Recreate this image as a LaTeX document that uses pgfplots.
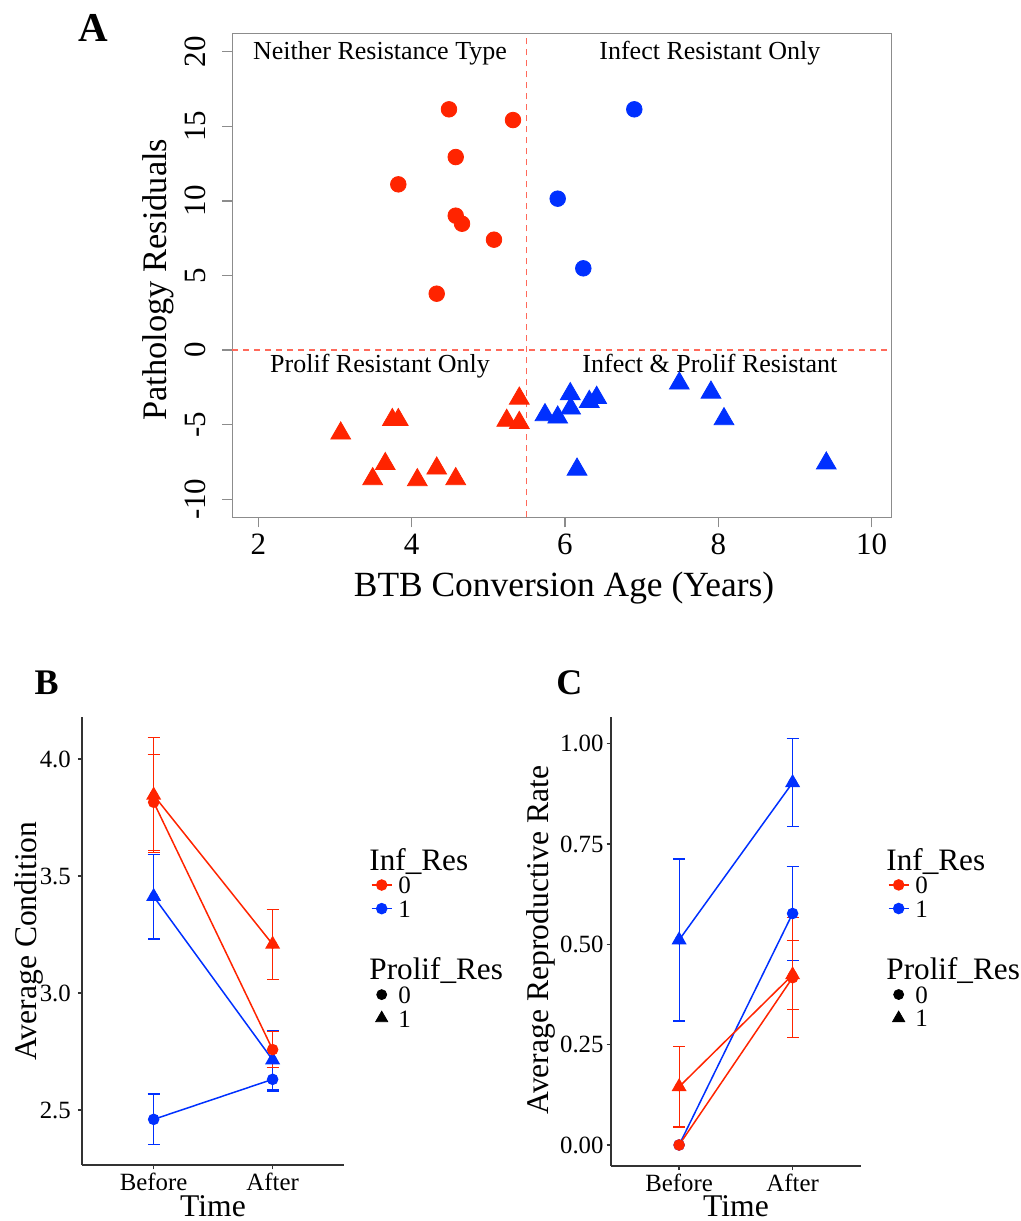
\documentclass[border=0pt]{standalone}
\usepackage{fontspec}
\setmainfont{Liberation Serif}
\usepackage{pgfplots}
\usepackage{pgfplotstable}
\pgfplotsset{compat=1.18}
\definecolor{myred}{RGB}{255,36,0}
\definecolor{myblue}{RGB}{0,48,255}
\definecolor{dashred}{RGB}{255,105,90}
\definecolor{axgray}{RGB}{140,140,140}

% Panel A data
\pgfplotstableread{
x y
4.487 16.14
5.322 15.42
4.575 12.94
3.826 11.11
4.575 9.01
4.657 8.47
5.074 7.40
4.327 3.78
}\AredC
\pgfplotstableread{
x y
6.904 16.14
5.905 10.15
6.239 5.48
}\AblueC
\pgfplotstableread{
x y
3.075 -5.58
3.748 -4.68
3.826 -4.68
3.656 -7.63
3.492 -8.64
4.327 -7.93
4.074 -8.71
4.575 -8.64
5.240 -4.73
5.404 -4.87
5.404 -3.24
}\AredT
\pgfplotstableread{
x y
5.739 -4.35
5.905 -4.51
6.069 -2.94
6.074 -3.91
6.317 -3.46
6.413 -3.19
6.157 -8.00
7.491 -2.23
7.904 -2.84
8.074 -4.62
9.408 -7.59
}\AblueT

% Panel B data
\pgfplotstableread{
t y e
1 2.460 0.108
2 2.631 0.050
}\BblueC
\pgfplotstableread{
t y e
1 3.412 0.181
2 2.714 0.125
}\BblueT
\pgfplotstableread{
t y e
1 3.815 0.205
2 2.758 0.077
}\BredC
\pgfplotstableread{
t y e
1 3.845 0.245
2 3.208 0.150
}\BredT

% Panel C data
\pgfplotstableread{
t y e
1 0.000 0.000
2 0.577 0.118
}\CblueC
\pgfplotstableread{
t y e
2 0.577 0.118
}\CblueCe
\pgfplotstableread{
t y e
1 0.511 0.202
2 0.903 0.110
}\CblueT
\pgfplotstableread{
t y e
1 0.000 0.000
2 0.417 0.150
}\CredC
\pgfplotstableread{
t y e
2 0.417 0.150
}\CredCe
\pgfplotstableread{
t y e
1 0.145 0.100
2 0.424 0.086
}\CredT

\newcommand{\es}{\rule[-1.85pt]{0pt}{12.15pt}}
\newcommand{\titlebox}[1]{\makebox[0pt][l]{\hspace*{-15pt}\fontsize{15.6}{17}\selectfont\rule[-2.4pt]{0pt}{14.4pt}#1}}

\pgfplotsset{
  smallstyle/.style={
    scale only axis,
    axis x line*=bottom, axis y line*=left,
    axis line style={black!80, line width=1pt},
    tick style={black!80, line width=0.7pt},
    major tick length=2.2pt,
    tick align=outside,
    xtick={1,2}, xticklabels={Before,After},
    xmin=0.4, xmax=2.6,
    ticklabel style={font=\fontsize{12.4}{14}\selectfont},
    xticklabel style={yshift=1.5pt},
    /pgf/number format/assume math mode=true,
    legend cell align=left,
    legend style={anchor=north west, draw=none, fill=none, inner sep=0pt, outer sep=0pt,
      row sep=0pt, column sep=3pt, nodes={inner sep=0pt, font=\fontsize{12.5}{14}\selectfont}},
    legend image code/.code={\draw[mark repeat=2,mark phase=2,##1] plot coordinates {(0pt,0pt) (5pt,0pt) (10pt,0pt)};},
  },
  ebar/.style={only marks, mark=none, forget plot,
    error bars/.cd, y dir=both, y explicit,
    error bar style={line width=0.6pt},
    error mark options={rotate=90, mark size=3pt, line width=0.6pt}},
}

\begin{document}
\begin{tikzpicture}
\path[use as bounding box] (0,0) rectangle (510.5pt,610.5pt);

% ---------------- Panel A ----------------
\begin{axis}[
  at={(116.15pt,351.85pt)}, anchor=south west,
  scale only axis, width=329.85pt, height=241.65pt,
  xmin=1.661, xmax=10.265, ymin=-11.21, ymax=21.19,
  axis line style={axgray, line width=0.5pt},
  tick style={axgray, line width=0.6pt},
  major tick length=5pt, tick align=outside,
  xtick pos=left, ytick pos=left,
  xtick={2,4,6,8,10}, ytick={-10,-5,0,5,10,15,20},
  /pgf/number format/assume math mode=true,
  ticklabel style={font=\fontsize{15.5}{17}\selectfont},
  yticklabel style={rotate=90, anchor=south},
  yticklabel shift=4.5pt,
  clip=false,
]
\addplot[dashred, line width=0.6pt, dash pattern=on 3pt off 2.5pt] coordinates {(1.661,0) (10.265,0)};
\addplot[dashred, line width=0.6pt, dash pattern=on 3pt off 2.5pt] coordinates {(5.5,-11.21) (5.5,21.19)};
\addplot[only marks, mark=*, mark size=3.9pt, color=myred] table {\AredC};
\addplot[only marks, mark=*, mark size=3.9pt, color=myblue] table {\AblueC};
\addplot[only marks, mark=triangle*, mark size=5.7pt, color=myred] table {\AredT};
\addplot[only marks, mark=triangle*, mark size=5.7pt, color=myblue] table {\AblueT};
\node[anchor=base, font=\fontsize{13}{15}\selectfont] at (axis cs:3.587,19.51) {Neither Resistance Type};
\node[anchor=base, font=\fontsize{13}{15}\selectfont] at (axis cs:7.89,19.51) {Infect Resistant Only};
\node[anchor=base, font=\fontsize{13}{15}\selectfont] at (axis cs:3.587,-1.535) {Prolif Resistant Only};
\node[anchor=base, font=\fontsize{13}{15}\selectfont] at (axis cs:7.89,-1.535) {Infect \& Prolif Resistant};
\end{axis}

% ---------------- Panel B ----------------
\begin{axis}[
  smallstyle,
  at={(41.15pt,28pt)}, anchor=south west,
  width=130.85pt, height=223.85pt,
  ymin=2.265, ymax=4.178,
  ytick={2.5,3,3.5,4}, yticklabels={2.5,3.0,3.5,4.0},
  legend style={at={(1.103,0.712)}},
]
\addplot[myblue, ebar] table[x=t, y=y, y error=e] {\BblueC};
\addplot[myblue, ebar] table[x=t, y=y, y error=e] {\BblueT};
\addplot[myred, ebar] table[x=t, y=y, y error=e] {\BredC};
\addplot[myred, ebar] table[x=t, y=y, y error=e] {\BredT};
\addplot[myblue, line width=0.75pt, mark=*, mark size=2.5pt, forget plot] table[x=t, y=y] {\BblueC};
\addplot[myblue, line width=0.75pt, mark=triangle*, mark size=3.6pt, forget plot] table[x=t, y=y] {\BblueT};
\addplot[myred, line width=0.75pt, mark=*, mark size=2.5pt, forget plot] table[x=t, y=y] {\BredC};
\addplot[myred, line width=0.75pt, mark=triangle*, mark size=3.6pt, forget plot] table[x=t, y=y] {\BredT};
\addlegendimage{empty legend}\addlegendentry{\titlebox{Inf\_Res}}
\addlegendimage{myred, line width=0.75pt, mark=*, mark size=2.5pt}\addlegendentry{\es 0}
\addlegendimage{myblue, line width=0.75pt, mark=*, mark size=2.5pt}\addlegendentry{\es 1}
\addlegendimage{empty legend}\addlegendentry{\rule{0pt}{16.2pt}}
\addlegendimage{empty legend}\addlegendentry{\titlebox{Prolif\_Res}}
\addlegendimage{black, only marks, mark=*, mark size=2.5pt}\addlegendentry{\es 0}
\addlegendimage{black, only marks, mark=triangle*, mark size=3.5pt}\addlegendentry{\es 1}
\end{axis}

% ---------------- Panel C ----------------
\begin{axis}[
  smallstyle,
  at={(305.5pt,27.65pt)}, anchor=south west,
  width=124.85pt, height=224.2pt,
  ymin=-0.0516, ymax=1.066,
  ytick={0,0.25,0.5,0.75,1}, yticklabels={0.00,0.25,0.50,0.75,1.00},
  yticklabel style={xshift=2pt},
  legend style={at={(1.109,0.7127)}},
]
\addplot[myblue, ebar] table[x=t, y=y, y error=e] {\CblueCe};
\addplot[myblue, ebar] table[x=t, y=y, y error=e] {\CblueT};
\addplot[myred, ebar] table[x=t, y=y, y error=e] {\CredCe};
\addplot[myred, ebar] table[x=t, y=y, y error=e] {\CredT};
\addplot[myblue, line width=0.75pt, mark=*, mark size=2.5pt, forget plot] table[x=t, y=y] {\CblueC};
\addplot[myblue, line width=0.75pt, mark=triangle*, mark size=3.6pt, forget plot] table[x=t, y=y] {\CblueT};
\addplot[myred, line width=0.75pt, mark=*, mark size=2.5pt, forget plot] table[x=t, y=y] {\CredC};
\addplot[myred, line width=0.75pt, mark=triangle*, mark size=3.6pt, forget plot] table[x=t, y=y] {\CredT};
\addlegendimage{empty legend}\addlegendentry{\titlebox{Inf\_Res}}
\addlegendimage{myred, line width=0.75pt, mark=*, mark size=2.5pt}\addlegendentry{\es 0}
\addlegendimage{myblue, line width=0.75pt, mark=*, mark size=2.5pt}\addlegendentry{\es 1}
\addlegendimage{empty legend}\addlegendentry{\rule{0pt}{16.2pt}}
\addlegendimage{empty legend}\addlegendentry{\titlebox{Prolif\_Res}}
\addlegendimage{black, only marks, mark=*, mark size=2.5pt}\addlegendentry{\es 0}
\addlegendimage{black, only marks, mark=triangle*, mark size=3.5pt}\addlegendentry{\es 1}
\end{axis}

% ---------------- Titles and labels ----------------
\node[anchor=base, font=\fontsize{17.7}{19}\selectfont] at (282pt,312pt) {BTB Conversion Age (Years)};
\node[rotate=90, anchor=base, font=\fontsize{17.2}{19}\selectfont] at (83pt,470.7pt) {Pathology Residuals};
\node[rotate=90, anchor=base, font=\fontsize{15.8}{17}\selectfont] at (18pt,140pt) {Average Condition};
\node[anchor=base, font=\fontsize{15.8}{17}\selectfont] at (106.5pt,2pt) {Time};
\node[rotate=90, anchor=base, font=\fontsize{15.8}{17}\selectfont] at (274pt,140.5pt) {Average Reproductive Rate};
\node[anchor=base, font=\fontsize{15.8}{17}\selectfont] at (368pt,2pt) {Time};
\node[anchor=base west, inner sep=0pt, font=\bfseries\fontsize{20.5}{22}\selectfont] at (39pt,589.65pt) {A};
\node[anchor=base west, inner sep=0pt, font=\bfseries\fontsize{18}{20}\selectfont] at (17.15pt,263.35pt) {B};
\node[anchor=base west, inner sep=0pt, font=\bfseries\fontsize{18}{20}\selectfont] at (278pt,263.35pt) {C};
\end{tikzpicture}
\end{document}
